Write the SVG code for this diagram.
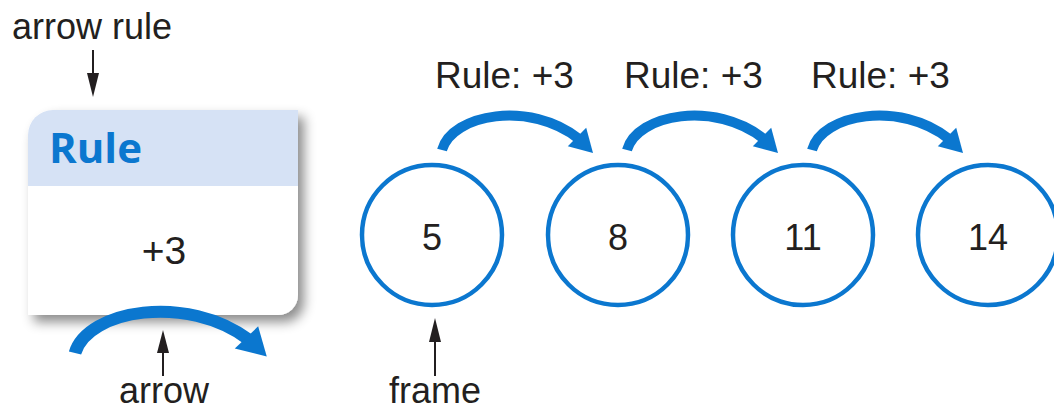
<svg xmlns="http://www.w3.org/2000/svg" width="1054" height="411" viewBox="0 0 1054 411">
  <defs>
    <style>
      .lbl { font-family: "Liberation Sans", Arial, sans-serif; font-size: 36px; fill: #231f20; }
      .num { font-family: "Liberation Sans", Arial, sans-serif; font-size: 36px; fill: #231f20; text-anchor: middle; }
      .ring { fill: #ffffff; stroke: #0b77cf; stroke-width: 4.5; }
      .ptr { stroke: #231f20; stroke-width: 2; fill: none; }
      .ptrhead { fill: #231f20; }
      .hop-line { fill: none; stroke: #0b77cf; stroke-width: 10; }
      .hop-head { fill: #0b77cf; }
      .title { font-family: "Open Sans", "Liberation Sans", sans-serif; font-weight: bold; font-size: 42px; fill: #0b77cf; }
    </style>
    <filter id="shadow" x="-10%" y="-10%" width="130%" height="130%">
      <feDropShadow dx="6" dy="7" stdDeviation="6" flood-color="#000000" flood-opacity="0.45"/>
    </filter>
    <!-- curved hop arrow, origin at the tail -->
    <g id="hop">
      <path class="hop-line" d="M0,0 C10,-36 88,-50 137,-11"/>
      <polygon class="hop-head" points="151,3 125.8,-3.8 144.2,-22.2"/>
    </g>
  </defs>

  <!-- rule box -->
  <g id="rule-box">
    <path d="M53,110 H298 V295 A20,20 0 0 1 278,315 H28 V135 A25,25 0 0 1 53,110 Z" fill="#ffffff" filter="url(#shadow)"/>
    <path d="M53,110 H298 V186 H28 V135 A25,25 0 0 1 53,110 Z" fill="#d6e2f5"/>
    <text class="title" x="49" y="163">Rule</text>
    <text class="num" x="164" y="264" style="font-size:39px">+3</text>
  </g>

  <!-- frames -->
  <g id="frame-5">
    <circle class="ring" cx="432" cy="235" r="70"/>
    <text class="num" x="432" y="250">5</text>
  </g>
  <g id="frame-8">
    <circle class="ring" cx="618" cy="235" r="70"/>
    <text class="num" x="618" y="250">8</text>
  </g>
  <g id="frame-11">
    <circle class="ring" cx="803" cy="235" r="70"/>
    <text class="num" x="803" y="250">11</text>
  </g>
  <g id="frame-14">
    <circle class="ring" cx="988" cy="235" r="70"/>
    <text class="num" x="988" y="250">14</text>
  </g>

  <!-- rule labels -->
  <g id="rule-labels">
    <text class="lbl" x="435" y="88" style="font-size:37px">Rule: +3</text>
    <text class="lbl" x="624" y="88" style="font-size:37px">Rule: +3</text>
    <text class="lbl" x="811" y="88" style="font-size:37px">Rule: +3</text>
  </g>

  <!-- connectors -->
  <g id="connectors">
    <use href="#hop" transform="translate(442,150)"/>
    <use href="#hop" transform="translate(627,150)"/>
    <use href="#hop" transform="translate(812,150)"/>
    <use href="#hop" transform="translate(75,353) scale(1.27,1.2)"/>
  </g>

  <!-- callouts -->
  <g id="callout-arrow-rule">
    <text class="lbl" x="12" y="39">arrow rule</text>
    <line class="ptr" x1="93" y1="50" x2="93" y2="78"/>
    <polygon class="ptrhead" points="87,73 99,73 93,97"/>
  </g>
  <g id="callout-arrow">
    <text class="lbl" x="164" y="403" text-anchor="middle">arrow</text>
    <line class="ptr" x1="163" y1="376" x2="163" y2="348"/>
    <polygon class="ptrhead" points="157,353 169,353 163,330"/>
  </g>
  <g id="callout-frame">
    <text class="lbl" x="435" y="403" text-anchor="middle">frame</text>
    <line class="ptr" x1="435" y1="376" x2="435" y2="336"/>
    <polygon class="ptrhead" points="429,342 441,342 435,318"/>
  </g>
</svg>
